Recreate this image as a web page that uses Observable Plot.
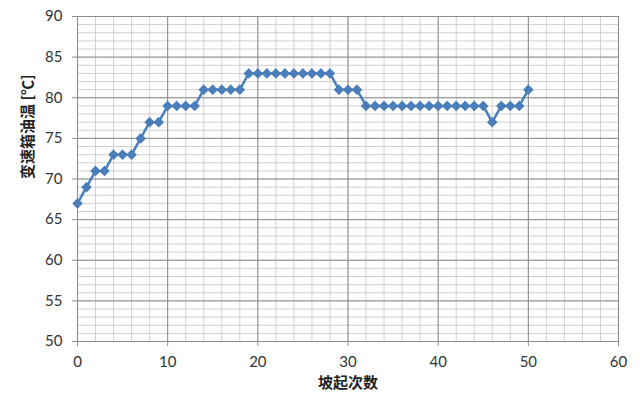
<!DOCTYPE html>
<html><head><meta charset="utf-8">
<script src="https://cdn.jsdelivr.net/npm/d3@7"></script>
<script src="https://cdn.jsdelivr.net/npm/@observablehq/plot@0.6"></script>
<style>body{margin:0;background:#fff}</style>
</head><body><div id="chart"></div>
<script>
const runs = [0,1,2,3,4,5,6,7,8,9,10,11,12,13,14,15,16,17,18,19,20,21,22,23,24,25,26,27,28,29,30,31,32,33,34,35,36,37,38,39,40,41,42,43,44,45,46,47,48,49,50];
const temps = [67,69,71,71,73,73,73,75,77,77,
  79,79,79,79,
  81,81,81,81,81,
  83,83,83,83,83,83,83,83,83,83,
  81,81,81,
  79,79,79,79,79,79,79,79,79,79,79,79,79,79,
  77,
  79,79,79,
  81];
const xMajor = [0,10,20,30,40,50,60];
const yMajor = [50,55,60,65,70,75,80,85,90];
const xMinor = d3.range(0, 61, 2);
const yMinor = d3.range(50, 91, 1);
const xTitle = "坡起次数";
const yTitle = "变速箱油温 [℃]";

const data = runs.map((r, i) => ({run: r, temp: temps[i]}));
const blue = "#4a7ebb";
const cjk = "'Noto Sans CJK SC', sans-serif";

const chart = Plot.plot({
  width: 640, height: 415,
  marginLeft: 77, marginRight: 22, marginTop: 16, marginBottom: 74,
  style: {fontFamily: "Lato, sans-serif", fontSize: "15px", background: "#fff", overflow: "visible"},
  x: {domain: [0, 60]},
  y: {domain: [50, 90]},
  marks: [
    Plot.gridY(yMinor, {stroke: "#d0d0d0", strokeOpacity: 1}),
    Plot.gridX(xMinor, {stroke: "#d0d0d0", strokeOpacity: 1}),
    Plot.gridY(yMajor, {stroke: "#8c8c8c", strokeOpacity: 1}),
    Plot.gridX(xMajor, {stroke: "#8c8c8c", strokeOpacity: 1}),
    Plot.axisX(xMajor, {tickSize: 5, tickPadding: 10, stroke: "#8c8c8c", fill: "#333", label: null}),
    Plot.axisY(yMajor, {tickSize: 5, tickPadding: 10, stroke: "#8c8c8c", fill: "#333", label: null}),
    Plot.line(data, {x: "run", y: "temp", stroke: blue, strokeWidth: 2.5}),
    Plot.dot(data, {x: "run", y: "temp", symbol: "diamond2", r: 3.8, fill: blue, stroke: blue}),
    Plot.text([xTitle], {text: d => d, frameAnchor: "bottom", dy: 46, fontSize: 15, fontWeight: "bold", fontFamily: cjk, fill: "#222"}),
    Plot.text([yTitle], {text: d => d, frameAnchor: "left", dx: -49, rotate: -90, fontSize: 15, fontWeight: "bold", fontFamily: cjk, fill: "#222"})
  ]
});
document.getElementById("chart").appendChild(chart);
</script>
</body></html>
